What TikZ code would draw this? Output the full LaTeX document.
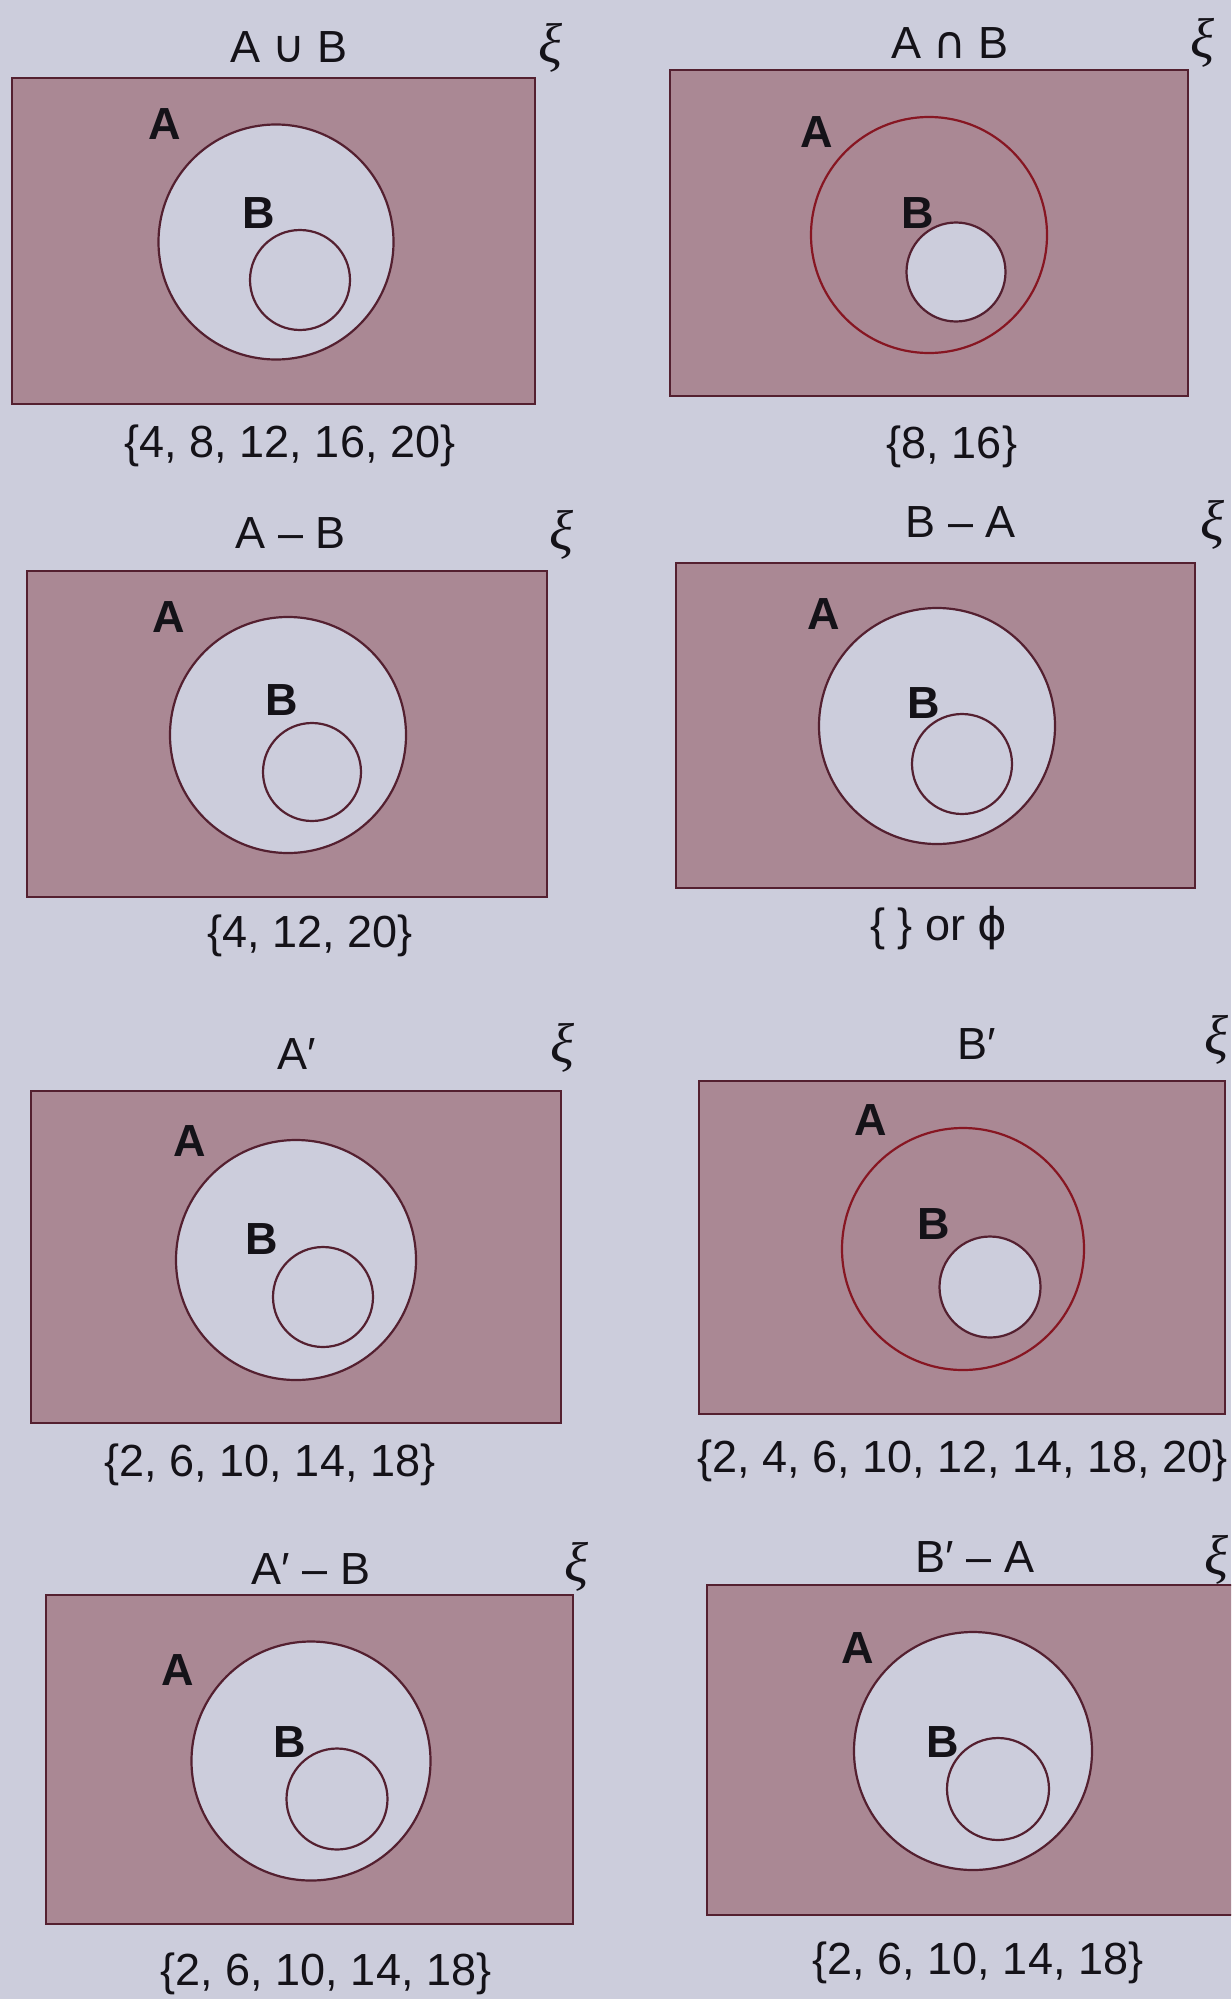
\documentclass[tikz,border=0pt]{standalone}
\usepackage{fontspec}
\setmainfont{Liberation Sans}
\newfontfamily\symfont{DejaVu Sans}
\newfontfamily\xifont{Liberation Serif}
\definecolor{page}{RGB}{204,205,220}
\definecolor{shade}{RGB}{170,136,148}
\definecolor{edge}{RGB}{84,32,48}
\definecolor{ink}{RGB}{20,18,24}
\newcommand{\bigtext}{\fontsize{45}{54}\selectfont}
\newcommand{\uni}{{\symfont ∪}}
\newcommand{\inter}{{\symfont ∩}}
\newcommand{\xisym}{{\xifont\itshape\fontsize{56}{60}\selectfont ξ}}

\begin{document}
\begin{tikzpicture}[
    x=1pt, y=-1pt,
    every node/.style={inner sep=0pt, text=ink, font=\bigtext},
    setname/.style={font=\bigtext\bfseries},
    universe/.style={draw=edge, line width=2.6pt, fill=shade},
    hole/.style={draw=edge, line width=2.2pt, fill=page},
    ring/.style={draw=edge!70!red, line width=2.2pt}
]

\useasboundingbox (0,0) rectangle (1231,1999);
\fill[page] (0,0) rectangle (1231,1999);
\clip (0,0) rectangle (1231,1999);

% A union B
\draw[universe] (12,78) rectangle (535,404);
\draw[hole] (276,242) circle[radius=117.5];
\draw[hole] (300,280) circle[radius=50];
\node (t1) at (289,47) {A \uni{} B};
\node (x1) at (550,48) {\xisym};
\node[setname] (la1) at (165,124) {A};
\node[setname] (lb1) at (259,213) {B};
\node (c1) at (290,446) {\{4, 8, 12, 16, 20\}};

% A intersection B
\draw[universe] (670,70) rectangle (1188,396);
\draw[ring] (929,235) circle[radius=118];
\draw[hole] (956,272) circle[radius=49.5];
\node (t2) at (950,43) {A \inter{} B};
\node (x2) at (1202,43) {\xisym};
\node[setname] (la2) at (817,132) {A};
\node[setname] (lb2) at (918,213) {B};
\node (c2) at (952,447) {\{8, 16\}};

% A minus B
\draw[universe] (27,571) rectangle (547,897);
\draw[hole] (288,735) circle[radius=118];
\draw[hole] (312,772) circle[radius=49];
\node (t3) at (291,533) {A – B};
\node (x3) at (561,535) {\xisym};
\node[setname] (la3) at (169,617) {A};
\node[setname] (lb3) at (282,700) {B};
\node (c3) at (310,936) {\{4, 12, 20\}};

% B minus A
\draw[universe] (676,563) rectangle (1195,888);
\draw[hole] (937,726) circle[radius=118];
\draw[hole] (962,764) circle[radius=50];
\node (t4) at (961,522) {B – A};
\node (x4) at (1212,525) {\xisym};
\node[setname] (la4) at (824,614) {A};
\node[setname] (lb4) at (924,703) {B};
\node (c4) at (939,928) {\{ \} or {\symfont ϕ}};

% complement of A
\draw[universe] (31,1091) rectangle (561,1423);
\draw[hole] (296,1260) circle[radius=120];
\draw[hole] (323,1297) circle[radius=50];
\node (t5) at (297,1054) {A′};
\node (x5) at (562,1048) {\xisym};
\node[setname] (la5) at (190,1141) {A};
\node[setname] (lb5) at (262,1239) {B};
\node (c5) at (270,1465) {\{2, 6, 10, 14, 18\}};

% complement of B
\draw[universe] (699,1081) rectangle (1225,1414);
\draw[ring] (963,1249) circle[radius=121];
\draw[hole] (990,1287) circle[radius=50.5];
\node (t6) at (977,1044) {B′};
\node (x6) at (1216,1040) {\xisym};
\node[setname] (la6) at (871,1120) {A};
\node[setname] (lb6) at (934,1224) {B};
\node (c6) [anchor=east] at (1228,1461) {\{2, 4, 6, 10, 12, 14, 18, 20\}};

% A' minus B
\draw[universe] (46,1595) rectangle (573,1924);
\draw[hole] (311,1761) circle[radius=119.5];
\draw[hole] (337,1799) circle[radius=50.5];
\node (t7) at (311,1569) {A′ – B};
\node (x7) at (576,1567) {\xisym};
\node[setname] (la7) at (178,1670) {A};
\node[setname] (lb7) at (290,1742) {B};
\node (c7) at (326,1974) {\{2, 6, 10, 14, 18\}};

% B' minus A
\draw[universe] (707,1585) rectangle (1245,1915);
\draw[hole] (973,1751) circle[radius=119];
\draw[hole] (998,1789) circle[radius=51];
\node (t8) at (975,1557) {B′ – A};
\node (x8) at (1216,1560) {\xisym};
\node[setname] (la8) at (858,1648) {A};
\node[setname] (lb8) at (943,1742) {B};
\node (c8) at (978,1963) {\{2, 6, 10, 14, 18\}};

\end{tikzpicture}
\end{document}
